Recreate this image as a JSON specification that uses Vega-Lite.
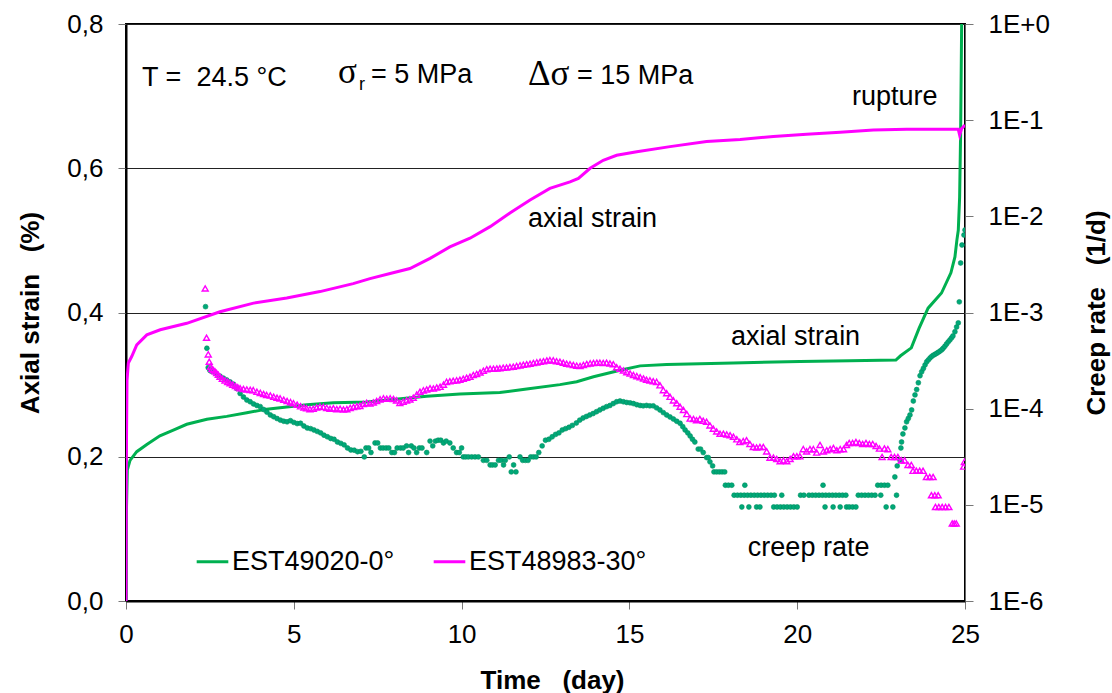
{
  "$schema": "https://vega.github.io/schema/vega-lite/v6.json",
  "width": 839,
  "height": 577,
  "autosize": {"type": "none"},
  "padding": {"left": 126, "top": 24, "right": 147, "bottom": 92},
  "background": "white",
  "config": {
    "font": "Liberation Sans",
    "view": {"stroke": "black", "strokeWidth": 2},
    "axis": {
      "labelFont": "Liberation Sans", "labelFontSize": 26, "labelColor": "black",
      "titleFont": "Liberation Sans", "titleFontSize": 26, "titleFontWeight": "bold", "titleColor": "black",
      "tickColor": "#777777", "tickSize": 8, "tickWidth": 1,
      "domainColor": "black", "domainWidth": 2, "labelFlush": false
    }
  },
  "datasets": {
    "strain": [
      {"series": "EST49020-0°", "day": 0, "strain": 0},
      {"series": "EST49020-0°", "day": 0.01, "strain": 0.12},
      {"series": "EST49020-0°", "day": 0.04, "strain": 0.182},
      {"series": "EST49020-0°", "day": 0.12, "strain": 0.195},
      {"series": "EST49020-0°", "day": 0.32, "strain": 0.207},
      {"series": "EST49020-0°", "day": 0.62, "strain": 0.217},
      {"series": "EST49020-0°", "day": 1.01, "strain": 0.229},
      {"series": "EST49020-0°", "day": 1.41, "strain": 0.237},
      {"series": "EST49020-0°", "day": 1.81, "strain": 0.245},
      {"series": "EST49020-0°", "day": 2.41, "strain": 0.252},
      {"series": "EST49020-0°", "day": 3.0, "strain": 0.256},
      {"series": "EST49020-0°", "day": 3.6, "strain": 0.261},
      {"series": "EST49020-0°", "day": 4.19, "strain": 0.266},
      {"series": "EST49020-0°", "day": 4.79, "strain": 0.269},
      {"series": "EST49020-0°", "day": 5.39, "strain": 0.272},
      {"series": "EST49020-0°", "day": 6.18, "strain": 0.275},
      {"series": "EST49020-0°", "day": 7.17, "strain": 0.276},
      {"series": "EST49020-0°", "day": 8.96, "strain": 0.284},
      {"series": "EST49020-0°", "day": 9.95, "strain": 0.287},
      {"series": "EST49020-0°", "day": 11.14, "strain": 0.289},
      {"series": "EST49020-0°", "day": 11.94, "strain": 0.294},
      {"series": "EST49020-0°", "day": 12.93, "strain": 0.3},
      {"series": "EST49020-0°", "day": 13.43, "strain": 0.304},
      {"series": "EST49020-0°", "day": 13.93, "strain": 0.311},
      {"series": "EST49020-0°", "day": 14.72, "strain": 0.32},
      {"series": "EST49020-0°", "day": 15.32, "strain": 0.326},
      {"series": "EST49020-0°", "day": 16.11, "strain": 0.328},
      {"series": "EST49020-0°", "day": 18.09, "strain": 0.33},
      {"series": "EST49020-0°", "day": 20.08, "strain": 0.332},
      {"series": "EST49020-0°", "day": 21.57, "strain": 0.333},
      {"series": "EST49020-0°", "day": 22.94, "strain": 0.334},
      {"series": "EST49020-0°", "day": 23.08, "strain": 0.34},
      {"series": "EST49020-0°", "day": 23.4, "strain": 0.351},
      {"series": "EST49020-0°", "day": 23.63, "strain": 0.378},
      {"series": "EST49020-0°", "day": 23.9, "strain": 0.406},
      {"series": "EST49020-0°", "day": 24.3, "strain": 0.427},
      {"series": "EST49020-0°", "day": 24.58, "strain": 0.455},
      {"series": "EST49020-0°", "day": 24.7, "strain": 0.477},
      {"series": "EST49020-0°", "day": 24.76, "strain": 0.501},
      {"series": "EST49020-0°", "day": 24.8, "strain": 0.514},
      {"series": "EST49020-0°", "day": 24.84, "strain": 0.56},
      {"series": "EST49020-0°", "day": 24.87, "strain": 0.65},
      {"series": "EST49020-0°", "day": 24.9, "strain": 0.8},
      {"series": "EST48983-30°", "day": 0, "strain": 0},
      {"series": "EST48983-30°", "day": 0.01, "strain": 0.2},
      {"series": "EST48983-30°", "day": 0.03, "strain": 0.306},
      {"series": "EST48983-30°", "day": 0.07, "strain": 0.33},
      {"series": "EST48983-30°", "day": 0.17, "strain": 0.339},
      {"series": "EST48983-30°", "day": 0.32, "strain": 0.355},
      {"series": "EST48983-30°", "day": 0.62, "strain": 0.369},
      {"series": "EST48983-30°", "day": 1.02, "strain": 0.376},
      {"series": "EST48983-30°", "day": 1.81, "strain": 0.385},
      {"series": "EST48983-30°", "day": 2.8, "strain": 0.401},
      {"series": "EST48983-30°", "day": 3.8, "strain": 0.413},
      {"series": "EST48983-30°", "day": 4.79, "strain": 0.42},
      {"series": "EST48983-30°", "day": 5.78, "strain": 0.429},
      {"series": "EST48983-30°", "day": 6.77, "strain": 0.44},
      {"series": "EST48983-30°", "day": 7.27, "strain": 0.447},
      {"series": "EST48983-30°", "day": 7.87, "strain": 0.454},
      {"series": "EST48983-30°", "day": 8.46, "strain": 0.461},
      {"series": "EST48983-30°", "day": 9.06, "strain": 0.475},
      {"series": "EST48983-30°", "day": 9.65, "strain": 0.491},
      {"series": "EST48983-30°", "day": 10.25, "strain": 0.503},
      {"series": "EST48983-30°", "day": 10.85, "strain": 0.519},
      {"series": "EST48983-30°", "day": 11.44, "strain": 0.538},
      {"series": "EST48983-30°", "day": 12.04, "strain": 0.556},
      {"series": "EST48983-30°", "day": 12.63, "strain": 0.572},
      {"series": "EST48983-30°", "day": 13.23, "strain": 0.581},
      {"series": "EST48983-30°", "day": 13.48, "strain": 0.586},
      {"series": "EST48983-30°", "day": 13.83, "strain": 0.6},
      {"series": "EST48983-30°", "day": 14.22, "strain": 0.611},
      {"series": "EST48983-30°", "day": 14.62, "strain": 0.618},
      {"series": "EST48983-30°", "day": 15.22, "strain": 0.623},
      {"series": "EST48983-30°", "day": 16.21, "strain": 0.63},
      {"series": "EST48983-30°", "day": 17.3, "strain": 0.637},
      {"series": "EST48983-30°", "day": 18.3, "strain": 0.64},
      {"series": "EST48983-30°", "day": 19.29, "strain": 0.644},
      {"series": "EST48983-30°", "day": 20.28, "strain": 0.647},
      {"series": "EST48983-30°", "day": 21.28, "strain": 0.65},
      {"series": "EST48983-30°", "day": 22.27, "strain": 0.653},
      {"series": "EST48983-30°", "day": 23.26, "strain": 0.654},
      {"series": "EST48983-30°", "day": 24.65, "strain": 0.654},
      {"series": "EST48983-30°", "day": 24.8, "strain": 0.654},
      {"series": "EST48983-30°", "day": 24.84, "strain": 0.646},
      {"series": "EST48983-30°", "day": 24.9, "strain": 0.655},
      {"series": "EST48983-30°", "day": 25, "strain": 0.66}
    ],
    "rate0": [
      {"day": 2.37, "rate": 1.15e-3}, {"day": 2.41, "rate": 4.25e-4}, {"day": 2.45, "rate": 2.67e-4},
      {"day": 2.5, "rate": 2.5e-4}, {"day": 2.55, "rate": 2.45e-4}, {"day": 2.6, "rate": 2.42e-4},
      {"day": 2.7, "rate": 2.3e-4}, {"day": 2.8, "rate": 2.18e-4}, {"day": 2.9, "rate": 2.08e-4},
      {"day": 3.0, "rate": 1.99e-4}, {"day": 3.1, "rate": 1.9e-4}, {"day": 3.2, "rate": 1.8e-4},
      {"day": 3.3, "rate": 1.62e-4}, {"day": 3.4, "rate": 1.44e-4}, {"day": 3.5, "rate": 1.32e-4},
      {"day": 3.6, "rate": 1.23e-4}, {"day": 3.7, "rate": 1.18e-4}, {"day": 3.8, "rate": 1.12e-4},
      {"day": 3.9, "rate": 1.08e-4}, {"day": 4.0, "rate": 1.05e-4}, {"day": 4.1, "rate": 9.8e-5},
      {"day": 4.2, "rate": 9.2e-5}, {"day": 4.3, "rate": 8.6e-5}, {"day": 4.4, "rate": 8.25e-5},
      {"day": 4.5, "rate": 7.9e-5}, {"day": 4.6, "rate": 7.6e-5}, {"day": 4.7, "rate": 7.4e-5},
      {"day": 4.8, "rate": 7.3e-5}, {"day": 4.9, "rate": 7.5e-5}, {"day": 5.0, "rate": 7.2e-5},
      {"day": 5.1, "rate": 7.0e-5}, {"day": 5.2, "rate": 7.05e-5}, {"day": 5.3, "rate": 6.6e-5},
      {"day": 5.4, "rate": 6.3e-5}, {"day": 5.5, "rate": 6.2e-5}, {"day": 5.6, "rate": 6.0e-5},
      {"day": 5.7, "rate": 5.8e-5}, {"day": 5.8, "rate": 5.6e-5}, {"day": 5.9, "rate": 5.3e-5},
      {"day": 6.0, "rate": 5.1e-5}, {"day": 6.1, "rate": 4.9e-5}, {"day": 6.2, "rate": 4.8e-5},
      {"day": 6.3, "rate": 4.5e-5}, {"day": 6.4, "rate": 4.36e-5}, {"day": 6.5, "rate": 4.2e-5},
      {"day": 6.6, "rate": 3.9e-5}, {"day": 6.7, "rate": 3.72e-5}, {"day": 6.8, "rate": 3.7e-5},
      {"day": 6.9, "rate": 3.57e-5}, {"day": 7.0, "rate": 3.6e-5}, {"day": 7.1, "rate": 3.15e-5},
      {"day": 7.15, "rate": 3.9e-5}, {"day": 7.23, "rate": 3.9e-5}, {"day": 7.3, "rate": 3.5e-5},
      {"day": 7.42, "rate": 4.4e-5}, {"day": 7.5, "rate": 4.4e-5}, {"day": 7.58, "rate": 3.9e-5},
      {"day": 7.66, "rate": 3.9e-5}, {"day": 7.75, "rate": 3.9e-5}, {"day": 7.83, "rate": 3.9e-5},
      {"day": 7.92, "rate": 3.5e-5}, {"day": 8.0, "rate": 3.5e-5}, {"day": 8.08, "rate": 3.9e-5},
      {"day": 8.18, "rate": 3.9e-5}, {"day": 8.26, "rate": 3.9e-5}, {"day": 8.36, "rate": 4.1e-5},
      {"day": 8.42, "rate": 3.5e-5}, {"day": 8.5, "rate": 4.1e-5}, {"day": 8.58, "rate": 3.9e-5},
      {"day": 8.66, "rate": 3.5e-5}, {"day": 8.74, "rate": 3.9e-5}, {"day": 8.82, "rate": 3.9e-5},
      {"day": 8.96, "rate": 3.5e-5}, {"day": 9.06, "rate": 4.6e-5}, {"day": 9.14, "rate": 4.1e-5},
      {"day": 9.22, "rate": 4.6e-5}, {"day": 9.3, "rate": 4.7e-5}, {"day": 9.38, "rate": 4.7e-5},
      {"day": 9.46, "rate": 4.4e-5}, {"day": 9.54, "rate": 4.6e-5}, {"day": 9.65, "rate": 4.4e-5},
      {"day": 9.75, "rate": 3.9e-5}, {"day": 9.85, "rate": 3.5e-5}, {"day": 9.93, "rate": 3.5e-5},
      {"day": 10.0, "rate": 3.9e-5}, {"day": 10.05, "rate": 3.15e-5}, {"day": 10.12, "rate": 3.15e-5},
      {"day": 10.2, "rate": 3.15e-5}, {"day": 10.3, "rate": 3.15e-5}, {"day": 10.4, "rate": 3.15e-5},
      {"day": 10.5, "rate": 3.15e-5}, {"day": 10.65, "rate": 2.9e-5}, {"day": 10.75, "rate": 2.9e-5},
      {"day": 10.85, "rate": 2.6e-5}, {"day": 10.92, "rate": 2.6e-5}, {"day": 11.0, "rate": 2.6e-5},
      {"day": 11.1, "rate": 2.9e-5}, {"day": 11.18, "rate": 2.9e-5}, {"day": 11.25, "rate": 2.6e-5},
      {"day": 11.3, "rate": 2.9e-5}, {"day": 11.42, "rate": 3.15e-5}, {"day": 11.48, "rate": 2.2e-5},
      {"day": 11.55, "rate": 2.6e-5}, {"day": 11.62, "rate": 2.2e-5}, {"day": 11.74, "rate": 3.15e-5},
      {"day": 11.82, "rate": 2.9e-5}, {"day": 11.9, "rate": 2.9e-5}, {"day": 11.98, "rate": 2.9e-5},
      {"day": 12.06, "rate": 3.15e-5}, {"day": 12.14, "rate": 3.15e-5}, {"day": 12.22, "rate": 3.15e-5},
      {"day": 12.3, "rate": 3.5e-5}, {"day": 12.4, "rate": 4.1e-5}, {"day": 12.5, "rate": 4.7e-5},
      {"day": 12.6, "rate": 4.8e-5}, {"day": 12.7, "rate": 5.1e-5}, {"day": 12.8, "rate": 5.4e-5},
      {"day": 12.9, "rate": 5.6e-5}, {"day": 13.0, "rate": 6.0e-5}, {"day": 13.1, "rate": 6.2e-5},
      {"day": 13.2, "rate": 6.4e-5}, {"day": 13.3, "rate": 6.7e-5}, {"day": 13.42, "rate": 7.1e-5},
      {"day": 13.52, "rate": 7.6e-5}, {"day": 13.62, "rate": 8.0e-5}, {"day": 13.72, "rate": 8.3e-5},
      {"day": 13.82, "rate": 8.6e-5}, {"day": 13.92, "rate": 8.9e-5}, {"day": 14.02, "rate": 9.3e-5},
      {"day": 14.12, "rate": 9.7e-5}, {"day": 14.22, "rate": 1.01e-4}, {"day": 14.32, "rate": 1.05e-4},
      {"day": 14.42, "rate": 1.08e-4}, {"day": 14.52, "rate": 1.13e-4}, {"day": 14.62, "rate": 1.18e-4},
      {"day": 14.72, "rate": 1.2e-4}, {"day": 14.82, "rate": 1.18e-4}, {"day": 14.92, "rate": 1.16e-4},
      {"day": 15.02, "rate": 1.15e-4}, {"day": 15.12, "rate": 1.13e-4}, {"day": 15.22, "rate": 1.1e-4},
      {"day": 15.32, "rate": 1.08e-4}, {"day": 15.41, "rate": 1.07e-4}, {"day": 15.51, "rate": 1.08e-4},
      {"day": 15.61, "rate": 1.07e-4}, {"day": 15.71, "rate": 1.07e-4}, {"day": 15.81, "rate": 1.02e-4},
      {"day": 15.91, "rate": 9.7e-5}, {"day": 16.01, "rate": 9.1e-5}, {"day": 16.11, "rate": 8.6e-5},
      {"day": 16.21, "rate": 8.2e-5}, {"day": 16.31, "rate": 7.8e-5}, {"day": 16.41, "rate": 7.4e-5},
      {"day": 16.51, "rate": 7.05e-5}, {"day": 16.59, "rate": 6.5e-5}, {"day": 16.66, "rate": 6.0e-5},
      {"day": 16.74, "rate": 5.6e-5}, {"day": 16.81, "rate": 5.2e-5}, {"day": 16.88, "rate": 4.8e-5},
      {"day": 16.95, "rate": 4.5e-5}, {"day": 17.05, "rate": 3.8e-5}, {"day": 17.12, "rate": 3.8e-5},
      {"day": 17.2, "rate": 3.5e-5}, {"day": 17.3, "rate": 3.1e-5}, {"day": 17.35, "rate": 3.1e-5},
      {"day": 17.4, "rate": 2.8e-5}, {"day": 17.48, "rate": 2.54e-5}, {"day": 17.52, "rate": 2.2e-5},
      {"day": 17.6, "rate": 2.2e-5}, {"day": 17.68, "rate": 2.2e-5}, {"day": 17.76, "rate": 2.2e-5},
      {"day": 17.84, "rate": 2.2e-5}, {"day": 17.86, "rate": 1.6e-5}, {"day": 17.95, "rate": 1.6e-5},
      {"day": 18.05, "rate": 1.6e-5}, {"day": 18.12, "rate": 1.26e-5}, {"day": 18.22, "rate": 1.26e-5},
      {"day": 18.32, "rate": 1.26e-5}, {"day": 18.35, "rate": 9.5e-6}, {"day": 18.42, "rate": 1.26e-5},
      {"day": 18.44, "rate": 1.6e-5}, {"day": 18.52, "rate": 1.26e-5}, {"day": 18.56, "rate": 9.5e-6},
      {"day": 18.62, "rate": 1.26e-5}, {"day": 18.72, "rate": 1.26e-5}, {"day": 18.79, "rate": 9.5e-6},
      {"day": 18.82, "rate": 1.26e-5}, {"day": 18.89, "rate": 9.5e-6}, {"day": 18.92, "rate": 1.26e-5},
      {"day": 19.02, "rate": 1.26e-5}, {"day": 19.12, "rate": 1.26e-5}, {"day": 19.22, "rate": 1.26e-5},
      {"day": 19.3, "rate": 9.5e-6}, {"day": 19.32, "rate": 1.26e-5}, {"day": 19.4, "rate": 9.5e-6},
      {"day": 19.5, "rate": 9.5e-6}, {"day": 19.54, "rate": 1.26e-5}, {"day": 19.6, "rate": 9.5e-6},
      {"day": 19.7, "rate": 9.5e-6}, {"day": 19.8, "rate": 9.5e-6}, {"day": 19.9, "rate": 9.5e-6},
      {"day": 20.0, "rate": 9.5e-6}, {"day": 20.1, "rate": 1.26e-5}, {"day": 20.2, "rate": 1.26e-5},
      {"day": 20.35, "rate": 1.26e-5}, {"day": 20.45, "rate": 1.26e-5}, {"day": 20.55, "rate": 1.26e-5},
      {"day": 20.65, "rate": 1.26e-5}, {"day": 20.75, "rate": 1.26e-5}, {"day": 20.77, "rate": 1.6e-5},
      {"day": 20.83, "rate": 9.5e-6}, {"day": 20.85, "rate": 1.26e-5}, {"day": 20.95, "rate": 1.26e-5},
      {"day": 21.05, "rate": 1.26e-5}, {"day": 21.07, "rate": 9.5e-6}, {"day": 21.15, "rate": 1.26e-5},
      {"day": 21.25, "rate": 1.26e-5}, {"day": 21.28, "rate": 9.5e-6}, {"day": 21.35, "rate": 1.26e-5},
      {"day": 21.45, "rate": 1.26e-5}, {"day": 21.47, "rate": 9.5e-6}, {"day": 21.55, "rate": 9.5e-6},
      {"day": 21.65, "rate": 9.5e-6}, {"day": 21.75, "rate": 9.5e-6}, {"day": 21.82, "rate": 1.26e-5},
      {"day": 21.92, "rate": 1.26e-5}, {"day": 22.02, "rate": 1.26e-5}, {"day": 22.12, "rate": 1.26e-5},
      {"day": 22.22, "rate": 1.26e-5}, {"day": 22.32, "rate": 1.26e-5}, {"day": 22.4, "rate": 1.6e-5},
      {"day": 22.49, "rate": 1.26e-5}, {"day": 22.5, "rate": 1.6e-5}, {"day": 22.6, "rate": 1.6e-5},
      {"day": 22.65, "rate": 9.5e-6}, {"day": 22.7, "rate": 1.6e-5}, {"day": 22.85, "rate": 9.5e-6},
      {"day": 22.91, "rate": 1.95e-5}, {"day": 22.96, "rate": 1.26e-5}, {"day": 22.98, "rate": 2.54e-5},
      {"day": 23.06, "rate": 2.92e-5}, {"day": 23.09, "rate": 3.9e-5}, {"day": 23.11, "rate": 4.5e-5},
      {"day": 23.15, "rate": 5.46e-5}, {"day": 23.21, "rate": 6.3e-5}, {"day": 23.26, "rate": 7.3e-5},
      {"day": 23.31, "rate": 7.9e-5}, {"day": 23.36, "rate": 8.6e-5}, {"day": 23.41, "rate": 9.7e-5},
      {"day": 23.46, "rate": 1.2e-4}, {"day": 23.51, "rate": 1.39e-4}, {"day": 23.56, "rate": 1.58e-4},
      {"day": 23.61, "rate": 1.86e-4}, {"day": 23.66, "rate": 2.2e-4}, {"day": 23.71, "rate": 2.42e-4},
      {"day": 23.76, "rate": 2.62e-4}, {"day": 23.81, "rate": 2.85e-4}, {"day": 23.86, "rate": 3.07e-4},
      {"day": 23.91, "rate": 3.22e-4}, {"day": 23.96, "rate": 3.37e-4}, {"day": 24.01, "rate": 3.5e-4},
      {"day": 24.06, "rate": 3.6e-4}, {"day": 24.11, "rate": 3.68e-4}, {"day": 24.16, "rate": 3.77e-4},
      {"day": 24.21, "rate": 3.87e-4}, {"day": 24.26, "rate": 3.98e-4}, {"day": 24.31, "rate": 4.1e-4},
      {"day": 24.35, "rate": 4.25e-4}, {"day": 24.4, "rate": 4.45e-4}, {"day": 24.45, "rate": 4.7e-4},
      {"day": 24.5, "rate": 4.95e-4}, {"day": 24.55, "rate": 5.18e-4}, {"day": 24.6, "rate": 5.45e-4},
      {"day": 24.64, "rate": 5.7e-4}, {"day": 24.7, "rate": 6.3e-4}, {"day": 24.75, "rate": 7.06e-4},
      {"day": 24.8, "rate": 7.8e-4}, {"day": 24.83, "rate": 1.29e-3}, {"day": 24.87, "rate": 3.27e-3},
      {"day": 24.91, "rate": 5.03e-3}, {"day": 24.97, "rate": 6.39e-3}, {"day": 25.0, "rate": 7.2e-3}
    ],
    "rate30": [
      {"day": 2.36, "rate": 1.78e-3}, {"day": 2.4, "rate": 5.47e-4}, {"day": 2.45, "rate": 3.67e-4},
      {"day": 2.48, "rate": 3.08e-4}, {"day": 2.52, "rate": 2.73e-4}, {"day": 2.56, "rate": 2.6e-4},
      {"day": 2.6, "rate": 2.52e-4}, {"day": 2.65, "rate": 2.45e-4}, {"day": 2.7, "rate": 2.35e-4},
      {"day": 2.75, "rate": 2.25e-4}, {"day": 2.8, "rate": 2.15e-4}, {"day": 2.87, "rate": 2.05e-4},
      {"day": 2.95, "rate": 1.97e-4}, {"day": 3.03, "rate": 1.9e-4}, {"day": 3.1, "rate": 1.84e-4},
      {"day": 3.18, "rate": 1.78e-4}, {"day": 3.26, "rate": 1.72e-4}, {"day": 3.33, "rate": 1.67e-4},
      {"day": 3.4, "rate": 1.63e-4}, {"day": 3.5, "rate": 1.6e-4}, {"day": 3.6, "rate": 1.58e-4},
      {"day": 3.7, "rate": 1.57e-4}, {"day": 3.79, "rate": 1.56e-4}, {"day": 3.9, "rate": 1.5e-4},
      {"day": 4.0, "rate": 1.46e-4}, {"day": 4.1, "rate": 1.42e-4}, {"day": 4.19, "rate": 1.39e-4},
      {"day": 4.3, "rate": 1.37e-4}, {"day": 4.4, "rate": 1.33e-4}, {"day": 4.5, "rate": 1.3e-4},
      {"day": 4.59, "rate": 1.28e-4}, {"day": 4.7, "rate": 1.24e-4}, {"day": 4.8, "rate": 1.2e-4},
      {"day": 4.9, "rate": 1.17e-4}, {"day": 4.99, "rate": 1.14e-4}, {"day": 5.1, "rate": 1.1e-4},
      {"day": 5.2, "rate": 1.06e-4}, {"day": 5.3, "rate": 1.03e-4}, {"day": 5.38, "rate": 1.01e-4},
      {"day": 5.48, "rate": 9.9e-5}, {"day": 5.58, "rate": 1.0e-4}, {"day": 5.68, "rate": 1.03e-4},
      {"day": 5.78, "rate": 1.05e-4}, {"day": 5.88, "rate": 1.04e-4}, {"day": 5.98, "rate": 1.02e-4},
      {"day": 6.08, "rate": 1.0e-4}, {"day": 6.18, "rate": 1.01e-4}, {"day": 6.28, "rate": 9.9e-5},
      {"day": 6.38, "rate": 1.0e-4}, {"day": 6.48, "rate": 9.8e-5}, {"day": 6.58, "rate": 9.9e-5},
      {"day": 6.68, "rate": 1.02e-4}, {"day": 6.78, "rate": 1.04e-4}, {"day": 6.88, "rate": 1.06e-4},
      {"day": 6.97, "rate": 1.07e-4}, {"day": 7.07, "rate": 1.12e-4}, {"day": 7.17, "rate": 1.15e-4},
      {"day": 7.27, "rate": 1.13e-4}, {"day": 7.37, "rate": 1.16e-4}, {"day": 7.47, "rate": 1.2e-4},
      {"day": 7.57, "rate": 1.25e-4}, {"day": 7.67, "rate": 1.28e-4}, {"day": 7.77, "rate": 1.27e-4},
      {"day": 7.87, "rate": 1.28e-4}, {"day": 7.97, "rate": 1.26e-4}, {"day": 8.06, "rate": 1.22e-4},
      {"day": 8.16, "rate": 1.15e-4}, {"day": 8.26, "rate": 1.18e-4}, {"day": 8.36, "rate": 1.22e-4},
      {"day": 8.46, "rate": 1.25e-4}, {"day": 8.56, "rate": 1.3e-4}, {"day": 8.66, "rate": 1.4e-4},
      {"day": 8.76, "rate": 1.5e-4}, {"day": 8.86, "rate": 1.55e-4}, {"day": 8.96, "rate": 1.58e-4},
      {"day": 9.06, "rate": 1.63e-4}, {"day": 9.16, "rate": 1.62e-4}, {"day": 9.26, "rate": 1.66e-4},
      {"day": 9.36, "rate": 1.69e-4}, {"day": 9.46, "rate": 1.78e-4}, {"day": 9.55, "rate": 1.9e-4},
      {"day": 9.65, "rate": 1.93e-4}, {"day": 9.75, "rate": 1.95e-4}, {"day": 9.85, "rate": 1.97e-4},
      {"day": 9.95, "rate": 2.0e-4}, {"day": 10.05, "rate": 2.05e-4}, {"day": 10.15, "rate": 2.1e-4},
      {"day": 10.25, "rate": 2.15e-4}, {"day": 10.35, "rate": 2.24e-4}, {"day": 10.45, "rate": 2.3e-4},
      {"day": 10.55, "rate": 2.38e-4}, {"day": 10.65, "rate": 2.48e-4}, {"day": 10.75, "rate": 2.57e-4},
      {"day": 10.85, "rate": 2.6e-4}, {"day": 10.95, "rate": 2.6e-4}, {"day": 11.05, "rate": 2.62e-4},
      {"day": 11.14, "rate": 2.63e-4}, {"day": 11.24, "rate": 2.66e-4}, {"day": 11.34, "rate": 2.68e-4},
      {"day": 11.44, "rate": 2.71e-4}, {"day": 11.54, "rate": 2.73e-4}, {"day": 11.64, "rate": 2.78e-4},
      {"day": 11.74, "rate": 2.82e-4}, {"day": 11.84, "rate": 2.86e-4}, {"day": 11.94, "rate": 2.9e-4},
      {"day": 12.04, "rate": 2.94e-4}, {"day": 12.14, "rate": 2.98e-4}, {"day": 12.24, "rate": 3.03e-4},
      {"day": 12.34, "rate": 3.07e-4}, {"day": 12.44, "rate": 3.12e-4}, {"day": 12.54, "rate": 3.17e-4},
      {"day": 12.63, "rate": 3.2e-4}, {"day": 12.73, "rate": 3.18e-4}, {"day": 12.83, "rate": 3.12e-4},
      {"day": 12.93, "rate": 3.07e-4}, {"day": 13.03, "rate": 3.0e-4}, {"day": 13.13, "rate": 2.94e-4},
      {"day": 13.23, "rate": 2.9e-4}, {"day": 13.33, "rate": 2.85e-4}, {"day": 13.43, "rate": 2.8e-4},
      {"day": 13.53, "rate": 2.78e-4}, {"day": 13.63, "rate": 2.85e-4}, {"day": 13.73, "rate": 2.92e-4},
      {"day": 13.83, "rate": 2.96e-4}, {"day": 13.93, "rate": 2.98e-4}, {"day": 14.03, "rate": 3.0e-4},
      {"day": 14.12, "rate": 3.0e-4}, {"day": 14.22, "rate": 2.98e-4}, {"day": 14.32, "rate": 3.0e-4},
      {"day": 14.42, "rate": 2.95e-4}, {"day": 14.52, "rate": 2.9e-4}, {"day": 14.62, "rate": 2.7e-4},
      {"day": 14.72, "rate": 2.6e-4}, {"day": 14.82, "rate": 2.5e-4}, {"day": 14.92, "rate": 2.4e-4},
      {"day": 15.02, "rate": 2.32e-4}, {"day": 15.12, "rate": 2.24e-4}, {"day": 15.22, "rate": 2.18e-4},
      {"day": 15.32, "rate": 2.12e-4}, {"day": 15.42, "rate": 2.06e-4}, {"day": 15.51, "rate": 2.0e-4},
      {"day": 15.61, "rate": 1.97e-4}, {"day": 15.71, "rate": 1.93e-4}, {"day": 15.81, "rate": 1.9e-4},
      {"day": 15.91, "rate": 1.75e-4}, {"day": 16.01, "rate": 1.56e-4}, {"day": 16.11, "rate": 1.45e-4},
      {"day": 16.21, "rate": 1.33e-4}, {"day": 16.31, "rate": 1.22e-4}, {"day": 16.41, "rate": 1.14e-4},
      {"day": 16.51, "rate": 1.05e-4}, {"day": 16.61, "rate": 9.7e-5}, {"day": 16.71, "rate": 8.8e-5},
      {"day": 16.81, "rate": 7.9e-5}, {"day": 16.91, "rate": 7.8e-5}, {"day": 17.0, "rate": 7.6e-5},
      {"day": 17.1, "rate": 7.8e-5}, {"day": 17.2, "rate": 7.5e-5}, {"day": 17.3, "rate": 7.3e-5},
      {"day": 17.4, "rate": 6.7e-5}, {"day": 17.5, "rate": 6.2e-5}, {"day": 17.6, "rate": 5.8e-5},
      {"day": 17.7, "rate": 5.5e-5}, {"day": 17.8, "rate": 5.5e-5}, {"day": 17.9, "rate": 5.4e-5},
      {"day": 18.0, "rate": 5.3e-5}, {"day": 18.1, "rate": 5.1e-5}, {"day": 18.2, "rate": 4.8e-5},
      {"day": 18.29, "rate": 4.5e-5}, {"day": 18.39, "rate": 4.6e-5}, {"day": 18.49, "rate": 4.7e-5},
      {"day": 18.59, "rate": 4.3e-5}, {"day": 18.69, "rate": 4.0e-5}, {"day": 18.79, "rate": 3.95e-5},
      {"day": 18.89, "rate": 4.0e-5}, {"day": 18.99, "rate": 4.0e-5}, {"day": 19.09, "rate": 3.6e-5},
      {"day": 19.19, "rate": 3.1e-5}, {"day": 19.29, "rate": 3.1e-5}, {"day": 19.39, "rate": 3.0e-5},
      {"day": 19.49, "rate": 2.85e-5}, {"day": 19.59, "rate": 2.9e-5}, {"day": 19.69, "rate": 2.85e-5},
      {"day": 19.79, "rate": 3.0e-5}, {"day": 19.89, "rate": 3.2e-5}, {"day": 19.99, "rate": 3.2e-5},
      {"day": 20.08, "rate": 3.2e-5}, {"day": 20.18, "rate": 3.8e-5}, {"day": 20.28, "rate": 3.6e-5},
      {"day": 20.38, "rate": 3.8e-5}, {"day": 20.48, "rate": 3.8e-5}, {"day": 20.58, "rate": 3.5e-5},
      {"day": 20.68, "rate": 4.2e-5}, {"day": 20.78, "rate": 3.6e-5}, {"day": 20.88, "rate": 3.7e-5},
      {"day": 20.98, "rate": 3.8e-5}, {"day": 21.08, "rate": 3.9e-5}, {"day": 21.18, "rate": 3.7e-5},
      {"day": 21.28, "rate": 3.8e-5}, {"day": 21.38, "rate": 3.8e-5}, {"day": 21.47, "rate": 4.2e-5},
      {"day": 21.55, "rate": 4.4e-5}, {"day": 21.65, "rate": 4.4e-5}, {"day": 21.75, "rate": 4.5e-5},
      {"day": 21.85, "rate": 4.4e-5}, {"day": 21.95, "rate": 4.3e-5}, {"day": 22.05, "rate": 4.4e-5},
      {"day": 22.15, "rate": 4.3e-5}, {"day": 22.25, "rate": 4.3e-5}, {"day": 22.35, "rate": 4.1e-5},
      {"day": 22.45, "rate": 3.85e-5}, {"day": 22.53, "rate": 3.15e-5}, {"day": 22.6, "rate": 3.85e-5},
      {"day": 22.7, "rate": 3.8e-5}, {"day": 22.8, "rate": 3.15e-5}, {"day": 22.9, "rate": 3.15e-5},
      {"day": 23.0, "rate": 3.15e-5}, {"day": 23.1, "rate": 2.9e-5}, {"day": 23.2, "rate": 2.9e-5},
      {"day": 23.3, "rate": 2.6e-5}, {"day": 23.4, "rate": 2.6e-5}, {"day": 23.45, "rate": 2.26e-5},
      {"day": 23.55, "rate": 2.26e-5}, {"day": 23.65, "rate": 2.26e-5}, {"day": 23.75, "rate": 2.26e-5},
      {"day": 23.85, "rate": 1.95e-5}, {"day": 23.95, "rate": 1.95e-5}, {"day": 24.05, "rate": 1.95e-5},
      {"day": 24.0, "rate": 1.26e-5}, {"day": 24.1, "rate": 1.26e-5}, {"day": 24.2, "rate": 1.26e-5},
      {"day": 24.12, "rate": 9.5e-6}, {"day": 24.22, "rate": 9.5e-6}, {"day": 24.32, "rate": 9.5e-6},
      {"day": 24.42, "rate": 9.5e-6}, {"day": 24.52, "rate": 9.5e-6}, {"day": 24.62, "rate": 6.4e-6},
      {"day": 24.68, "rate": 6.4e-6}, {"day": 24.74, "rate": 6.4e-6}, {"day": 24.96, "rate": 2.5e-5},
      {"day": 24.98, "rate": 2.8e-5}
    ],
    "notes": [
      {"label": "T =\u00a0\u00a024.5 °C", "day": 0.48, "strain": 0.714, "kind": "text"},
      {"label": "= 5 MPa", "day": 7.3, "strain": 0.7182, "kind": "text"},
      {"label": "= 15 MPa", "day": 13.44, "strain": 0.7168, "kind": "text"},
      {"label": "rupture", "day": 21.63, "strain": 0.6877, "kind": "text"},
      {"label": "axial strain", "day": 11.98, "strain": 0.519, "kind": "text"},
      {"label": "axial strain", "day": 18.03, "strain": 0.355, "kind": "text"},
      {"label": "creep rate", "day": 18.53, "strain": 0.0624, "kind": "text"},
      {"label": "σ", "day": 6.32, "strain": 0.7182, "kind": "greek"},
      {"label": "Δσ", "day": 11.98, "strain": 0.7154, "kind": "greek"},
      {"label": "r", "day": 6.94, "strain": 0.708, "kind": "sub"}
    ]
  },
  "layer": [
    {
      "layer": [
        {
          "data": {"name": "strain"},
          "mark": {"type": "line", "strokeWidth": 3, "clip": true},
          "encoding": {
            "x": {
              "field": "day", "type": "quantitative",
              "scale": {"domain": [0, 25], "nice": false, "zero": false},
              "axis": {
                "values": [0, 5, 10, 15, 20, 25], "grid": false, "title": "Time\u00a0\u00a0\u00a0(day)",
                "labelPadding": 12, "titleX": 426, "titleY": 87, "titleAngle": 0,
                "titleAlign": "center", "titleBaseline": "alphabetic"
              }
            },
            "y": {
              "field": "strain", "type": "quantitative",
              "scale": {"domain": [0, 0.8], "nice": false},
              "axis": {
                "values": [0, 0.2, 0.4, 0.6, 0.8],
                "labelExpr": "replace(format(datum.value, '.1f'), '.', ',')",
                "grid": true, "gridColor": "#222222", "gridWidth": 1,
                "labelPadding": 15, "title": "Axial strain\u00a0\u00a0\u00a0(%)",
                "titleX": -88, "titleY": 288.5, "titleAngle": 270,
                "titleAlign": "center", "titleBaseline": "alphabetic"
              }
            },
            "color": {
              "field": "series", "type": "nominal",
              "scale": {"domain": ["EST49020-0°", "EST48983-30°"], "range": ["#00B050", "#FF00FF"]},
              "legend": {
                "orient": "none", "legendX": 69, "legendY": 520, "direction": "horizontal",
                "title": null, "symbolType": "stroke", "symbolSize": 1000, "symbolStrokeWidth": 3,
                "labelFont": "Liberation Sans", "labelFontSize": 27, "labelColor": "black",
                "labelOffset": 2, "columnPadding": 32, "padding": 0, "labelLimit": 400
              }
            }
          }
        },
        {
          "data": {"name": "notes"},
          "transform": [{"filter": "datum.kind == 'text'"}],
          "mark": {"type": "text", "align": "left", "baseline": "alphabetic", "font": "Liberation Sans", "fontSize": 27, "color": "black"},
          "encoding": {
            "x": {"field": "day", "type": "quantitative"},
            "y": {"field": "strain", "type": "quantitative"},
            "text": {"field": "label"}
          }
        },
        {
          "data": {"name": "notes"},
          "transform": [{"filter": "datum.kind == 'greek'"}],
          "mark": {"type": "text", "align": "left", "baseline": "alphabetic", "font": "Liberation Serif", "fontSize": 35, "color": "black"},
          "encoding": {
            "x": {"field": "day", "type": "quantitative"},
            "y": {"field": "strain", "type": "quantitative"},
            "text": {"field": "label"}
          }
        },
        {
          "data": {"name": "notes"},
          "transform": [{"filter": "datum.kind == 'sub'"}],
          "mark": {"type": "text", "align": "left", "baseline": "alphabetic", "font": "Liberation Sans", "fontSize": 18, "color": "black"},
          "encoding": {
            "x": {"field": "day", "type": "quantitative"},
            "y": {"field": "strain", "type": "quantitative"},
            "text": {"field": "label"}
          }
        }
      ]
    },
    {
      "layer": [
        {
          "data": {"name": "rate0"},
          "mark": {"type": "circle", "size": 24, "color": "#00A878", "stroke": "#00905F", "strokeWidth": 0.6, "opacity": 1, "clip": true},
          "encoding": {
            "x": {"field": "day", "type": "quantitative"},
            "y": {
              "field": "rate", "type": "quantitative",
              "scale": {"type": "log", "domain": [1e-6, 1], "nice": false},
              "axis": {
                "orient": "right", "values": [1e-6, 1e-5, 1e-4, 1e-3, 1e-2, 1e-1, 1],
                "labelExpr": "'1E' + (round(log(datum.value)/LN10) >= 0 ? '+' : '') + round(log(datum.value)/LN10)",
                "grid": false, "labelPadding": 15, "domainColor": "#666666", "domainWidth": 1,
                "title": "Creep rate\u00a0\u00a0\u00a0(1/d)",
                "titleX": 139, "titleY": 288.5, "titleAngle": 270,
                "titleAlign": "center", "titleBaseline": "alphabetic"
              }
            }
          }
        },
        {
          "data": {"name": "rate30"},
          "mark": {"type": "point", "shape": "triangle-up", "size": 36, "filled": false, "color": "#FF00FF", "strokeWidth": 1.4, "opacity": 1, "clip": true},
          "encoding": {
            "x": {"field": "day", "type": "quantitative"},
            "y": {"field": "rate", "type": "quantitative"}
          }
        }
      ]
    }
  ],
  "resolve": {"scale": {"y": "independent"}}
}
